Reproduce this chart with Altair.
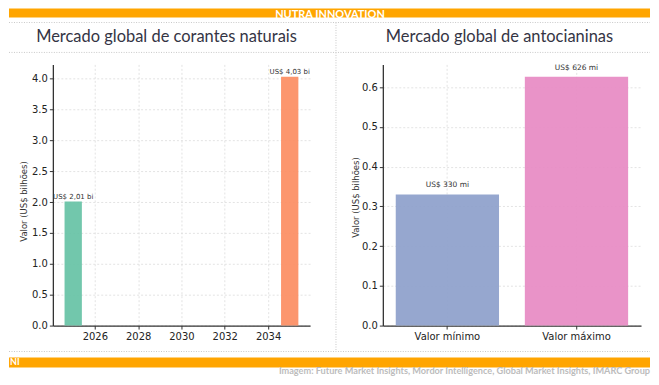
import altair as alt
import pandas as pd

# ---------------- data ----------------
years = [2025, 2035]
market_values = [2.01, 4.03]
market_labels = ["US$ 2,01 bi", "US$ 4,03 bi"]
market_colors = ["#66c2a5", "#fc8d62"]

antho_categories = ["Valor mínimo", "Valor máximo"]
antho_values = [0.330, 0.626]
antho_labels = ["US$ 330 mi", "US$ 626 mi"]
antho_colors = ["#8da0cb", "#e78ac3"]

year_ticks = [2026, 2028, 2030, 2032, 2034]
left_y_ticks = [0.0, 0.5, 1.0, 1.5, 2.0, 2.5, 3.0, 3.5, 4.0]
right_y_ticks = [0.0, 0.1, 0.2, 0.3, 0.4, 0.5, 0.6]

header_text = "NUTRA INNOVATION"
left_title = "Mercado global de corantes naturais"
right_title = "Mercado global de antocianinas"
y_title = "Valor (US$ bilhões)"
footer_tag = "NI"
footer_text = "Imagem: Future Market Insights, Mordor Intelligence, Global Market Insights, IMARC Group"

# ---------------- style ----------------
ORANGE = "#FFA500"
DOT = "#c8c8c8"
GRID = "#dcdcdc"
AX = "#333333"
W0, W1, H = 258, 259, 262
SPACING = 73

axis_common = dict(
    domainColor=AX, domainWidth=1.3, tickColor=AX, tickSize=3.5, tickWidth=1,
    labelFont="DejaVu Sans", labelFontSize=10, labelColor="#222222", labelPadding=2,
    gridColor=GRID, gridDash=[2, 2], gridWidth=0.8, grid=True, labelOverlap=False,
)

# ---------------- decorations (drawn in left panel coordinates) ----------------
one = pd.DataFrame({"d": [0]})
deco = []
def rect(x1, x2, y1, y2, color):
    return alt.Chart(one).mark_rect(color=color).encode(
        x=alt.value(x1), x2=alt.value(x2), y=alt.value(y1), y2=alt.value(y2))

def hrule(x1, x2, y):
    return alt.Chart(one).mark_rule(color=DOT, strokeDash=[1, 1.5], strokeWidth=1).encode(
        x=alt.value(x1), x2=alt.value(x2), y=alt.value(y))

def vrule(x, y1, y2):
    return alt.Chart(one).mark_rule(color=DOT, strokeDash=[1, 1.5], strokeWidth=1).encode(
        x=alt.value(x), y=alt.value(y1), y2=alt.value(y2))

def label(txt, x, y, **kw):
    return alt.Chart(one).mark_text(text=txt, **kw).encode(x=alt.value(x), y=alt.value(y))

L, R = -44, 599
deco += [
    rect(L, R, -56, -47, ORANGE),
    label(header_text, 278, -56, align="center", baseline="top", font="Lato",
          fontSize=11, fontWeight="bold", color="white"),
    hrule(L, R, -42),
    label(left_title, 114, -22, align="center", baseline="alphabetic", font="Lato",
          fontSize=16.5, color="#343444"),
    label(right_title, 448, -22, align="center", baseline="alphabetic", font="Lato",
          fontSize=16.5, color="#343444"),
    hrule(L, R, -12),
    vrule(284, -42, 288),
    hrule(L, R, 288),
    rect(L, R, 294, 304, ORANGE),
    label(footer_tag, L + 1, 299, align="left", baseline="middle", font="Lato",
          fontSize=9, fontWeight="bold", color="white"),
    label(footer_text, R, 313, align="right", baseline="bottom", font="Lato",
          fontSize=9.2, fontWeight="bold", color="#bcbcbc"),
]

# ---------------- left panel ----------------
df_left = pd.DataFrame({"year": years, "value": market_values,
                        "label": market_labels, "color": market_colors})
xs_l = alt.Scale(domain=[2024.06, 2035.94], nice=False, zero=False)
ys_l = alt.Scale(domain=[0, 4.2315], nice=False)
x_axis_l = alt.Axis(values=year_ticks, format="d", title=None, **axis_common)
y_axis_l = alt.Axis(values=left_y_ticks, format=".1f", title=y_title, titleFont="DejaVu Sans",
                    titleFontSize=8.5, titleFontWeight="normal", titleColor="#333333",
                    titleX=-29, titleY=137, titleAngle=270, titleBaseline="middle",
                    titleAlign="center", **axis_common)

base_l = alt.Chart(df_left).transform_calculate(
    x0="datum.year - 0.4", x1="datum.year + 0.4")
bars_l = base_l.mark_bar(opacity=0.92).encode(
    x=alt.X("x0:Q", scale=xs_l, axis=x_axis_l),
    x2="x1:Q",
    y=alt.Y("value:Q", scale=ys_l, axis=y_axis_l),
    y2=alt.datum(0),
    color=alt.Color("color:N", scale=None),
)
text_l = alt.Chart(df_left).mark_text(
    baseline="bottom", dy=-2, font="DejaVu Sans", fontSize=7, color="#333333").encode(
    x=alt.X("year:Q", scale=xs_l, axis=x_axis_l),
    y=alt.Y("value:Q", scale=ys_l, axis=y_axis_l),
    text="label:N",
)
left = alt.layer(*deco, bars_l, text_l).properties(width=W0, height=H)

# ---------------- right panel ----------------
df_right = pd.DataFrame({"cat": antho_categories, "value": antho_values,
                         "label": antho_labels, "color": antho_colors})
xs_r = alt.Scale(domain=antho_categories, paddingInner=0.2, paddingOuter=0.1)
ys_r = alt.Scale(domain=[0, 0.6573], nice=False)
x_axis_r = alt.Axis(title=None, labelAngle=0, bandPosition=0.5, **axis_common)
y_axis_r = alt.Axis(values=right_y_ticks, format=".1f", title=y_title, titleFont="DejaVu Sans",
                    titleFontSize=8.5, titleFontWeight="normal", titleColor="#333333",
                    titleX=-27, titleY=133, titleAngle=270, titleBaseline="middle",
                    titleAlign="center", **axis_common)
bars_r = alt.Chart(df_right).mark_bar(opacity=0.92).encode(
    x=alt.X("cat:N", scale=xs_r, axis=x_axis_r, sort=antho_categories),
    y=alt.Y("value:Q", scale=ys_r, axis=y_axis_r),
    color=alt.Color("color:N", scale=None),
)
text_r = alt.Chart(df_right).mark_text(
    baseline="bottom", dy=-5, font="DejaVu Sans", fontSize=7.5, color="#333333").encode(
    x=alt.X("cat:N", scale=xs_r, sort=antho_categories, axis=x_axis_r),
    y=alt.Y("value:Q", scale=ys_r, axis=y_axis_r),
    text="label:N",
)
right = alt.layer(bars_r, text_r).properties(width=W1, height=H)

chart = alt.hconcat(left, right, spacing=SPACING, bounds="flush").properties(
    padding=0, background="white"
).configure_view(stroke=None)

chart.save("out.html", embed_options={"renderer": "svg", "actions": False})
